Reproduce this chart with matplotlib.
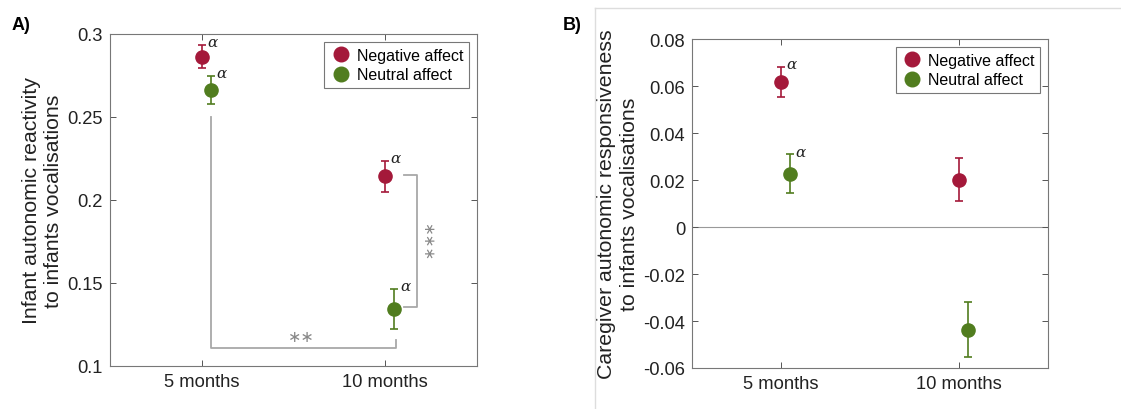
import numpy as np
import matplotlib
matplotlib.use("Agg")
import matplotlib.pyplot as plt
from matplotlib.lines import Line2D

plt.rcParams['font.family'] = ['Liberation Sans', 'DejaVu Sans']

months = ["5 months", "10 months"]

# panel A: infant autonomic reactivity
neg_a = [0.2863, 0.2143]
neg_a_err = [0.0070, 0.0093]
neu_a = [0.2663, 0.1343]
neu_a_err = [0.0083, 0.0121]
neg_a_alpha = [True, True]
neu_a_alpha = [True, True]

# panel B: caregiver autonomic responsiveness
neg_b = [0.0618, 0.0201]
neg_b_err = [0.0065, 0.0091]
neu_b = [0.0226, -0.0438]
neu_b_err = [0.0083, 0.0117]
neg_b_alpha = [True, False]
neu_b_alpha = [True, False]

yticks_a = [0.1, 0.15, 0.2, 0.25, 0.3]
yticklabels_a = ["0.1", "0.15", "0.2", "0.25", "0.3"]
yticks_b = [-0.06, -0.04, -0.02, 0, 0.02, 0.04, 0.06, 0.08]
yticklabels_b = ["-0.06", "-0.04", "-0.02", "0", "0.02", "0.04", "0.06", "0.08"]

red = "#A4193A"
green = "#517D1F"
grey_sig = "#A8A8A8"
x = np.array([1, 2])
shift = 0.05

fig = plt.figure(figsize=(11.21, 4.10), dpi=100)
ax_a = fig.add_axes([0.0981, 0.1049, 0.3274, 0.8098])
ax_b = fig.add_axes([0.6173, 0.1000, 0.3180, 0.8024])


def draw_panel(ax, neg, neg_err, neu, neu_err, neg_alpha, neu_alpha):
    ax.errorbar(x, neg, yerr=neg_err, fmt='o', color=red, ms=9.5, capsize=3,
                elinewidth=1.2, capthick=1.2, label="Negative affect")
    ax.errorbar(x + shift, neu, yerr=neu_err, fmt='o', color=green, ms=9.5, capsize=3,
                elinewidth=1.2, capthick=1.2, label="Neutral affect")
    for xs, vals, errs, flags in [(x, neg, neg_err, neg_alpha),
                                  (x + shift, neu, neu_err, neu_alpha)]:
        for xi, v, e, f in zip(xs, vals, errs, flags):
            if f:
                ax.annotate("α", (xi, v + e), xytext=(4, 2), textcoords='offset points',
                            ha='left', va='center', style='italic', fontsize=11,
                            family=['DejaVu Serif'], color='#222222')
    ax.set_xlim(0.5, 2.5)
    ax.set_xticks(x)
    ax.set_xticklabels(months)
    ax.tick_params(direction='in', length=4, width=0.7, colors='#555555',
                   labelcolor='#222222', labelsize=13.2, top=True, right=True, pad=5)
    for s in ax.spines.values():
        s.set_color('#777777')
        s.set_linewidth(0.8)
    handles = [Line2D([], [], marker='o', ls='', color=red, ms=10.5),
               Line2D([], [], marker='o', ls='', color=green, ms=10.5)]
    leg = ax.legend(handles, ["Negative affect", "Neutral affect"], loc='upper right',
                    fontsize=11.5, fancybox=False, edgecolor='#777777', framealpha=1,
                    borderaxespad=0.5, handletextpad=0.3, borderpad=0.35,
                    labelspacing=0.3, handlelength=1.4)
    leg.get_frame().set_linewidth(0.8)


draw_panel(ax_a, neg_a, neg_a_err, neu_a, neu_a_err, neg_a_alpha, neu_a_alpha)
ax_a.set_ylim(0.1, 0.3)
ax_a.set_yticks(yticks_a)
ax_a.set_yticklabels(yticklabels_a)
ax_a.set_ylabel("Infant autonomic reactivity\nto infants vocalisations",
                fontsize=15.3, color='#222222', labelpad=3, linespacing=1.25)

# 5 vs 10 months (neutral affect)
ax_a.plot([1.05, 1.05, 2.06, 2.06], [0.25, 0.111, 0.111, 0.1155],
          color=grey_sig, lw=1.3)
ax_a.text(1.545, 0.1135, "∗∗", ha='center', va='bottom', color='#888888',
          fontsize=11.5, family=['DejaVu Sans'])
# negative vs neutral at 10 months
ax_a.plot([2.1, 2.175, 2.175, 2.1], [0.215, 0.215, 0.1355, 0.1355],
          color=grey_sig, lw=1.3)
ax_a.text(2.183, 0.1755, "∗∗∗", ha='left', va='center', rotation=-90,
          color='#888888', fontsize=11, family=['DejaVu Sans'])

draw_panel(ax_b, neg_b, neg_b_err, neu_b, neu_b_err, neg_b_alpha, neu_b_alpha)
ax_b.set_ylim(-0.06, 0.08)
ax_b.set_yticks(yticks_b)
ax_b.set_yticklabels(yticklabels_b)
ax_b.axhline(0, color='#999999', lw=0.8, zorder=0)
ax_b.set_ylabel("Caregiver autonomic responsiveness\nto infants vocalisations",
                fontsize=15.3, color='#222222', labelpad=3, linespacing=1.25)

fig.text(12 / 1121, 1 - 26 / 410, "A)", fontsize=13, fontweight='bold', va='center')
fig.text(563 / 1121, 1 - 26 / 410, "B)", fontsize=13, fontweight='bold', va='center')

# thin frame around panel B
fig.add_artist(Line2D([595 / 1121, 595 / 1121], [0, 1 - 9 / 410],
                      color='#DDDDDD', lw=1, transform=fig.transFigure))
fig.add_artist(Line2D([595 / 1121, 1], [1 - 9 / 410, 1 - 9 / 410],
                      color='#DDDDDD', lw=1, transform=fig.transFigure))

fig.savefig("out.png", dpi=100)
